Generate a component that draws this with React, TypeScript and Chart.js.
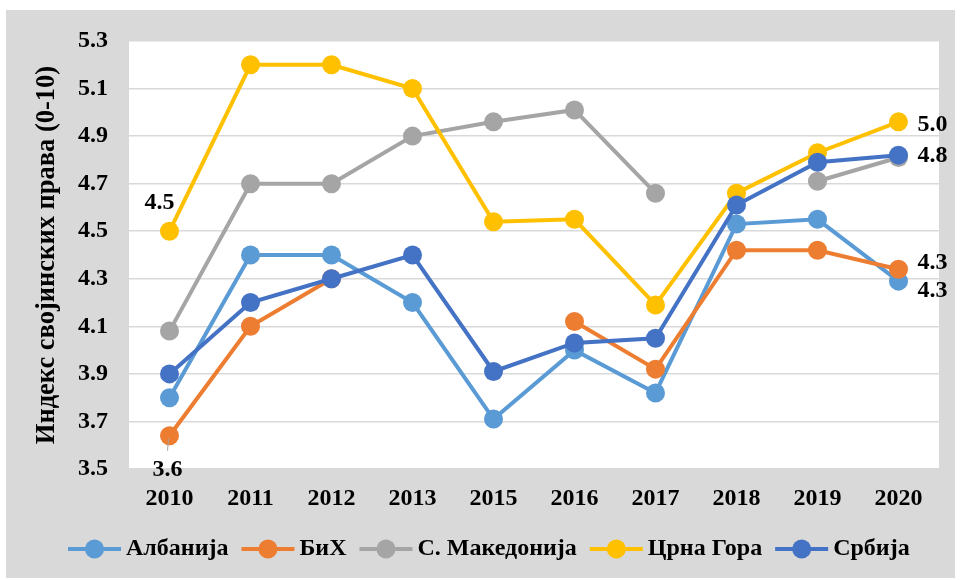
import React, { useEffect, useRef } from "react";
import { Chart, registerables } from "chart.js";

Chart.register(...registerables);

const years = ["2010", "2011", "2012", "2013", "2015", "2016", "2017", "2018", "2019", "2020"];
const albania = [3.8, 4.4, 4.4, 4.2, 3.71, 4.0, 3.82, 4.53, 4.55, 4.29];
const bih = [3.64, 4.1, 4.3, null, null, 4.12, 3.92, 4.42, 4.42, 4.34];
const macedonia = [4.08, 4.7, 4.7, 4.9, 4.96, 5.01, 4.66, null, 4.71, 4.81];
const montenegro = [4.5, 5.2, 5.2, 5.1, 4.54, 4.55, 4.19, 4.66, 4.83, 4.96];
const serbia = [3.9, 4.2, 4.3, 4.4, 3.91, 4.03, 4.05, 4.61, 4.79, 4.82];
const seriesNames = ["Албанија", "БиХ", "С. Македонија", "Црна Гора", "Србија"];
const colors = ["#5b9bd5", "#ed7d31", "#a5a5a5", "#ffc000", "#4472c4"];
const yTitle = "Индекс својинских права (0-10)";

const FONT = "'Liberation Serif', 'Times New Roman', serif";

// labelled points: [series index, category index, dx, dy, align]
const labelled: [number, number, number, number, CanvasTextAlign][] = [
  [3, 0, -10, -28, "center"],
  [1, 0, -2, 34, "center"],
  [3, 9, 19, 3, "left"],
  [4, 9, 19, 1, "left"],
  [1, 9, 19, -6, "left"],
  [0, 9, 19, 10, "left"],
];

const bgPlugin = {
  id: "bg",
  beforeDraw(chart: any) {
    const { ctx, chartArea } = chart;
    ctx.save();
    ctx.fillStyle = "#ffffff";
    ctx.fillRect(0, 0, chart.width, chart.height);
    ctx.fillStyle = "#d9d9d9";
    ctx.fillRect(6, 10, 949, 568);
    ctx.fillStyle = "#ffffff";
    ctx.fillRect(chartArea.left, chartArea.top, chartArea.right - chartArea.left, chartArea.bottom - chartArea.top);
    ctx.restore();
  },
};

const labelPlugin = {
  id: "labels",
  afterDatasetsDraw(chart: any) {
    const { ctx } = chart;
    ctx.save();
    ctx.font = `bold 24px ${FONT}`;
    ctx.fillStyle = "#000";
    ctx.textBaseline = "middle";
    for (const [ds, idx, dx, dy, align] of labelled) {
      const meta = chart.getDatasetMeta(ds);
      const pt = meta.data[idx];
      const v = chart.data.datasets[ds].data[idx];
      if (!pt || v == null) continue;
      if (ds === 1 && idx === 0) {
        ctx.strokeStyle = "#a5a5a5";
        ctx.lineWidth = 1;
        ctx.beginPath();
        ctx.moveTo(pt.x - 1, pt.y + 3);
        ctx.lineTo(pt.x - 2, pt.y + 15);
        ctx.stroke();
      }
      ctx.textAlign = align;
      ctx.fillText(Number(v).toFixed(1), pt.x + dx, pt.y + dy);
    }
    ctx.restore();
  },
};

const legendPlugin = {
  id: "customLegend",
  afterDraw(chart: any) {
    const { ctx } = chart;
    ctx.save();
    ctx.font = `bold 24px ${FONT}`;
    ctx.textBaseline = "middle";
    ctx.textAlign = "left";
    const y = 549;
    let x = 68;
    seriesNames.forEach((name, i) => {
      ctx.strokeStyle = colors[i];
      ctx.lineWidth = 4;
      ctx.beginPath();
      ctx.moveTo(x, y);
      ctx.lineTo(x + 53, y);
      ctx.stroke();
      ctx.fillStyle = colors[i];
      ctx.beginPath();
      ctx.arc(x + 26.5, y, 9.5, 0, Math.PI * 2);
      ctx.fill();
      ctx.fillStyle = "#000";
      ctx.fillText(name, x + 58, y);
      x += 58 + ctx.measureText(name).width + 13;
    });
    ctx.restore();
  },
};

export default function App() {
  const ref = useRef<HTMLCanvasElement>(null);
  useEffect(() => {
    const series = [albania, bih, macedonia, montenegro, serbia];
    const chart = new Chart(ref.current!, {
      type: "line",
      data: {
        labels: years,
        datasets: series.map((d, i) => ({
          label: seriesNames[i],
          data: d,
          borderColor: colors[i],
          backgroundColor: colors[i],
          pointBackgroundColor: colors[i],
          pointBorderWidth: 0,
          pointRadius: 9.5,
          borderWidth: 4,
          order: 5 - i,
          spanGaps: false,
          tension: 0,
        })),
      },
      options: {
        responsive: false,
        animation: false,
        layout: { padding: { top: 41, right: 21, left: 0, bottom: 0 } },
        plugins: { legend: { display: false }, tooltip: { enabled: false } },
        scales: {
          x: {
            offset: true,
            grid: { display: false },
            border: { display: false },
            ticks: { color: "#000", font: { family: FONT, size: 24, weight: "bold" }, padding: 7, maxRotation: 0 },
            afterFit(scale: any) {
              scale.height = 111;
            },
          },
          y: {
            min: 3.5,
            max: 5.3,
            grid: { color: "#d9d9d9", lineWidth: 1.5, drawTicks: false },
            border: { display: false },
            ticks: {
              stepSize: 0.2,
              color: "#000",
              padding: 21,
              font: { family: FONT, size: 24, weight: "bold" },
              callback: (v: any) => Number(v).toFixed(1),
            },
            title: {
              display: true,
              text: yTitle,
              color: "#000",
              font: { family: FONT, size: 26.5, weight: "bold" },
              padding: { top: 31, bottom: 0 },
            },
            afterFit(scale: any) {
              scale.width = 129;
            },
          },
        },
      },
      plugins: [bgPlugin, labelPlugin, legendPlugin],
    } as any);
    return () => chart.destroy();
  }, []);
  return (
    <div style={{ position: "absolute", left: 0, top: 0, width: 960, height: 580 }}>
      <canvas ref={ref} width={960} height={580} />
    </div>
  );
}
